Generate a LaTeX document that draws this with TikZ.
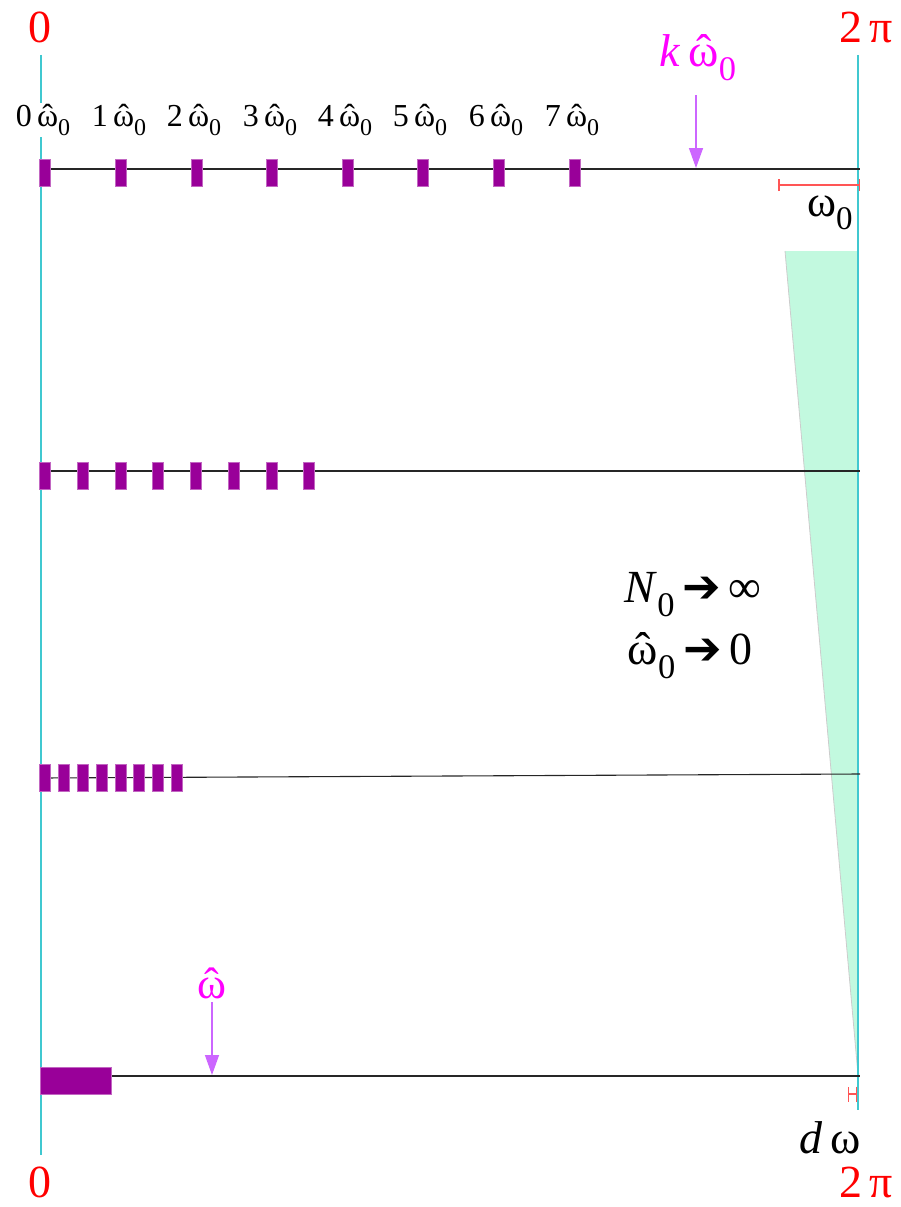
\documentclass[tikz,border=0pt]{standalone}
\usepackage{fontspec}
\usepackage{graphicx}
\setmainfont{Liberation Serif}
\newfontfamily\symf{DejaVu Sans}
\usetikzlibrary{arrows.meta}
\definecolor{tickpurple}{HTML}{990099}
\definecolor{axcyan}{HTML}{40C8D0}
\definecolor{mint}{HTML}{C2F9DF}
\definecolor{magtext}{HTML}{FF00FF}
\definecolor{violetarrow}{HTML}{CC66FF}
\definecolor{barred}{HTML}{FF5555}
\newcommand\sub[1]{\raisebox{-0.3em}{\scalebox{0.75}{#1}}}
\newcommand\wh{\accent"02C6 ω}
\newcommand\harr{{\symf ➔}}
\tikzset{
  tickbox/.style={fill=tickpurple, draw=tickpurple!60, line width=0.4pt, minimum width=11pt, minimum height=27pt, inner sep=0pt},
  axis/.style={draw=axcyan, line width=1.2pt},
  hline/.style={draw=black!85, line width=1.1pt},
  tlab/.style={font=\fontsize{32}{36}\selectfont, inner sep=1pt, fill=white},
  redlab/.style={text=red, font=\fontsize{46}{50}\selectfont, inner sep=0pt},
  biglab/.style={font=\fontsize{46}{50}\selectfont, inner sep=0pt},
  maglab/.style={text=magtext, font=\fontsize{46}{50}\selectfont, inner sep=0pt},
  varrow/.style={draw=violetarrow, line width=1.4pt, -{Triangle[width=14pt,length=20pt]}},
  rangebar/.style={draw=barred, line width=1.5pt, {Bar[width=12pt]}-{Bar[width=12pt]}},
}
\begin{document}
\begin{tikzpicture}[x=1pt,y=-1pt]
\useasboundingbox (0,0) rectangle (901,1207);
% green wedge
\fill[mint] (785,251) -- (858,251) -- (858,1075) -- cycle;
\draw[black!20, line width=0.8pt] (785,251) -- (858,1075);
% axes
\coordinate (l0t) at (41,55); \coordinate (l0b) at (41,1155);
\coordinate (r0t) at (858,55); \coordinate (r0b) at (858,1110);
\draw[axis] (l0t) -- (l0b);
\draw[axis] (r0t) -- (r0b);
% rows
\coordinate (a1) at (41,169); \coordinate (b1) at (860,169);
\coordinate (a2) at (41,471); \coordinate (b2) at (860,471);
\coordinate (a3) at (41,778); \coordinate (b3) at (860,774);
\coordinate (a4) at (41,1076); \coordinate (b4) at (860,1076);
\draw[hline] (a1) -- (b1);
\draw[hline] (a2) -- (b2);
\draw[hline] (a3) -- (b3);
\draw[hline] (a4) -- (b4);
% ticks
\foreach \i in {0,...,7} {
  \node[tickbox] (t1\i) at ({45+75.6*\i},173) {};
  \node[tickbox] (t2\i) at ({45+37.7*\i},475.5) {};
  \node[tickbox] (t3\i) at ({45+18.8*\i},778) {};
}
\node[tickbox, minimum width=71pt] (t4) at (75.5,1080.5) {};
% tick labels
\foreach \i/\x in {0/43,1/119,2/194,3/270,4/345,5/420,6/496,7/572} {
  \node[tlab] (lab\i) at (\x,120) {\i\,\wh\sub{0}};
}
% k omega arrow
\node[maglab] (klab) at (698,58) {\textit{k}\,\wh\sub{0}};
\coordinate (ktop) at (696,95); \coordinate (kbot) at (696,168);
\draw[varrow] (ktop) -- (kbot);
% omega hat arrow
\node[maglab, font=\fontsize{44}{48}\selectfont] (wlab) at (212,983) {\wh};
\coordinate (wtop) at (212,1002); \coordinate (wbot) at (212,1075);
\draw[varrow] (wtop) -- (wbot);
% range bars
\coordinate (w0a) at (778,185); \coordinate (w0b) at (860,185);
\draw[rangebar] (w0a) -- (w0b);
\node[biglab, font=\fontsize{44}{48}\selectfont] (w0lab) at (830,213) {ω\sub{0}};
\coordinate (dwa) at (848,1094); \coordinate (dwb) at (857,1094);
\draw[draw=barred, line width=1.2pt, {Bar[width=15pt]}-{Bar[width=15pt]}] (dwa) -- (dwb);
\node[biglab] (dwlab) at (830,1138) {\textit{d}\,ω};
% limits text
\node[biglab] (nlim) at (693,595) {\textit{N}\sub{0}\,\harr\,∞};
\node[biglab] (wlim) at (690,656) {\wh\sub{0}\,\harr\,0};
% red end labels
\node[redlab] (z0t) at (40,27) {0};
\node[redlab] (tpt) at (866,27) {2\,π};
\node[redlab] (z0b) at (40,1182) {0};
\node[redlab] (tpb) at (866,1182) {2\,π};
\end{tikzpicture}
\end{document}
